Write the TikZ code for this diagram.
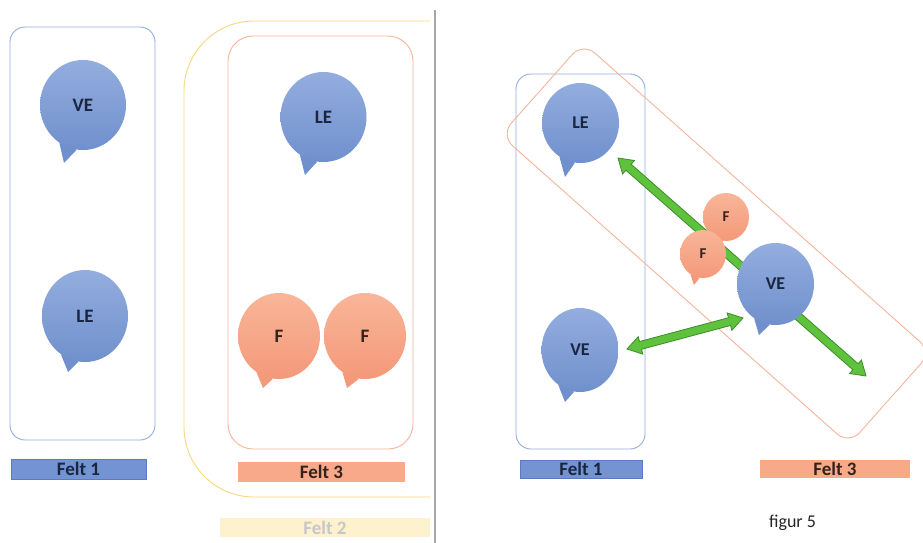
\documentclass[tikz,border=0pt]{standalone}
\usepackage{fontspec}
\setmainfont{Carlito}
\usetikzlibrary{calc,shapes.geometric}
\definecolor{bbox}{HTML}{93ADDC}
\definecolor{obox}{HTML}{F4B59C}
\definecolor{ybox}{HTML}{F8D77E}
\definecolor{btop}{HTML}{93ADDE}
\definecolor{bbot}{HTML}{7090CD}
\definecolor{otop}{HTML}{F9B598}
\definecolor{obot}{HTML}{F4997A}
\definecolor{btext}{HTML}{1A2540}
\definecolor{otext}{HTML}{33231C}
\definecolor{gfill}{HTML}{5FC23C}
\definecolor{gline}{HTML}{3C8E2A}
\definecolor{lblue}{HTML}{7393D3}
\definecolor{lbluel}{HTML}{5B7BC0}
\definecolor{lorange}{HTML}{F8A98A}
\definecolor{lyellow}{HTML}{FDF1CE}
\definecolor{divgray}{HTML}{A6A6A6}
\tikzset{
  fieldbox/.style={line width=0.9pt},
  bluebub/.style={ellipse, inner sep=0pt, top color=btop, bottom color=bbot, text=btext,
     font=\bfseries\fontsize{19pt}{22pt}\selectfont},
  orbub/.style={ellipse, inner sep=0pt, top color=otop, bottom color=obot, text=otext,
     font=\bfseries\fontsize{19pt}{22pt}\selectfont},
  labelbar/.style={rectangle, inner sep=0pt, font=\bfseries\fontsize{19pt}{22pt}\selectfont},
  garrow/.style={fill=gfill, draw=gline, line width=0.8pt, line join=miter}
}
\newcommand\bubtail[4]{%
  \fill[#4] (#1.238) -- ($(#1.center)+(#2,#3)$) -- (#1.262) -- cycle;}
\newcommand\gdarrow[2]{%
  \coordinate (ga) at ($(#1)!14pt!(#2)$);
  \coordinate (gb) at ($(#2)!14pt!(#1)$);
  \filldraw[garrow] (#1) -- ($(ga)!9pt!90:(#2)$) -- ($(ga)!4pt!90:(#2)$)
    -- ($(gb)!4pt!-90:(#1)$) -- ($(gb)!9pt!-90:(#1)$) -- (#2)
    -- ($(gb)!9pt!90:(#1)$) -- ($(gb)!4pt!90:(#1)$)
    -- ($(ga)!4pt!-90:(#2)$) -- ($(ga)!9pt!-90:(#2)$) -- cycle;}
\begin{document}
\begin{tikzpicture}[x=1pt,y=-1pt]
\useasboundingbox (0,0) rectangle (923,543);
\clip (0,0) rectangle (923,543);
\fill[white] (0,0) rectangle (923,543);

% ---------- left panel ----------
\draw[fieldbox, draw=bbox, rounded corners=15pt] (10,27) rectangle (155,440);
\draw[fieldbox, draw=ybox] (430,21) -- (254,21) arc[start angle=90, end angle=180, radius=70pt]
   -- (184,427) arc[start angle=180, end angle=270, radius=70pt] -- (430,497);
\draw[fieldbox, draw=obox, rounded corners=25pt] (228,36) rectangle (413,449);
\draw[line width=2.6pt, divgray] (435,10) -- (435,543);

\node[bluebub, minimum width=86pt, minimum height=90pt] (VEa) at (83,105) {VE};
\bubtail{VEa}{-19}{58}{bbot}
\node[bluebub, minimum width=86pt, minimum height=92pt] (LEa) at (85,316) {LE};
\bubtail{LEa}{-17}{56}{bbot}
\node[bluebub, minimum width=86pt, minimum height=90pt] (LEb) at (323.5,117) {LE};
\bubtail{LEb}{-18.5}{58}{bbot}
\node[orbub, minimum width=82pt, minimum height=86pt] (Fa) at (279,336) {F};
\bubtail{Fa}{-16}{52}{obot}
\node[orbub, minimum width=82pt, minimum height=86pt] (Fb) at (365,336) {F};
\bubtail{Fb}{-18}{52}{obot}

\node[labelbar, fill=lblue, draw=lbluel, line width=0.6pt, minimum width=135pt, minimum height=20pt, text=btext] (L1) at (78.5,469) {Felt 1};
\node[labelbar, fill=lorange, minimum width=167pt, minimum height=20pt, text=otext] (L3) at (321.5,472) {Felt 3};
\node[labelbar, fill=lyellow, minimum width=210pt, minimum height=19pt, text=black!22] (L2) at (325,527.5) {Felt 2};

% ---------- right panel ----------
\draw[fieldbox, draw=bbox, rounded corners=15pt] (516,74) rectangle (645,449);
\node[draw=obox, line width=0.9pt, rectangle, rounded corners=16pt, minimum width=466pt,
      minimum height=124pt, rotate=-41.6] (F3r) at (716,243.5) {};

\coordinate (a1s) at (618,158);
\coordinate (a1e) at (866,376);
\coordinate (a2s) at (627,349);
\coordinate (a2e) at (743,318);
\gdarrow{a1s}{a1e}
\gdarrow{a2s}{a2e}

\node[bluebub, minimum width=77pt, minimum height=80pt, font=\bfseries\fontsize{18pt}{21pt}\selectfont] (LEc) at (580.5,123) {LE};
\bubtail{LEc}{-15.5}{54}{bbot}
\node[bluebub, minimum width=77pt, minimum height=84pt, font=\bfseries\fontsize{18pt}{21pt}\selectfont] (VEb) at (580,350) {VE};
\bubtail{VEb}{-15}{52}{bbot}
\node[orbub, minimum width=46pt, minimum height=48pt, font=\bfseries\fontsize{15pt}{18pt}\selectfont] (Fc) at (726,217) {F};
\bubtail{Fc}{-9}{31}{obot}
\node[orbub, minimum width=46pt, minimum height=48pt, font=\bfseries\fontsize{15pt}{18pt}\selectfont] (Fd) at (703,254) {F};
\bubtail{Fd}{-9}{31}{obot}
\node[bluebub, minimum width=77pt, minimum height=82pt, font=\bfseries\fontsize{18pt}{21pt}\selectfont] (VEc) at (775.5,284) {VE};
\bubtail{VEc}{-16.5}{51}{bbot}

\node[labelbar, fill=lblue, draw=lbluel, line width=0.6pt, minimum width=122pt, minimum height=18pt, text=btext] (R1) at (581,469) {Felt 1};
\node[labelbar, fill=lorange, minimum width=150pt, minimum height=18pt, text=otext] (R3) at (835,469) {Felt 3};
\node[font=\fontsize{18pt}{21pt}\selectfont, text=black!85, inner sep=0pt] (fig) at (792.5,523) {figur 5};
\end{tikzpicture}
\end{document}
